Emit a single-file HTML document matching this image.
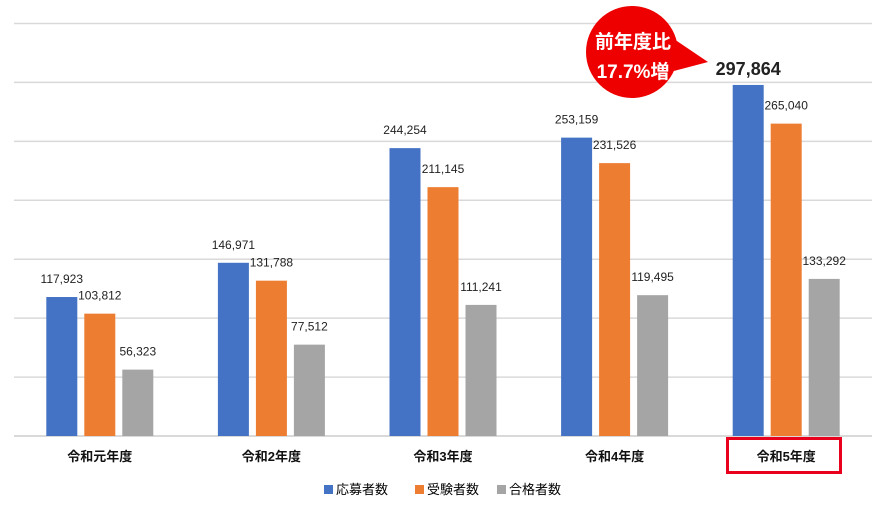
<!DOCTYPE html>
<html><head><meta charset="utf-8"><style>
body{margin:0;background:#fff;}
svg{display:block;font-family:"Liberation Sans","Noto Sans CJK JP",sans-serif;}
</style></head><body>
<svg id="chart" width="880" height="509">
<g id="grid"></g><g id="bars"></g><g id="labels"></g><g id="xlabels"></g>
<rect x="727.5" y="438.5" width="113" height="34" fill="none" stroke="#e8001c" stroke-width="3"/>
<g>
<circle cx="632" cy="52" r="46" fill="#ee0000"/>
<path d="M668 35 L708 62 L670 72 Z" fill="#ee0000"/>
<text x="633" y="48" text-anchor="middle" font-size="19" font-weight="bold" fill="#fff">前年度比</text>
<text x="633" y="78" text-anchor="middle" font-size="19" font-weight="bold" fill="#fff">17.7%増</text>
</g>
<g>
<rect x="324" y="485" width="9" height="9" fill="#4472c4"/><text x="336" y="494" font-size="13">応募者数</text>
<rect x="415" y="485" width="9" height="9" fill="#ed7d31"/><text x="427" y="494" font-size="13">受験者数</text>
<rect x="497" y="485" width="9" height="9" fill="#a5a5a5"/><text x="509" y="494" font-size="13">合格者数</text>
</g>
</svg>
<script>
const categories=["令和元年度","令和2年度","令和3年度","令和4年度","令和5年度"];
const applicants=[117923,146971,244254,253159,297864];
const examinees=[103812,131788,211145,231526,265040];
const passers=[56323,77512,111241,119495,133292];
const ticks=[0,50000,100000,150000,200000,250000,300000,350000];
const NS="http://www.w3.org/2000/svg";
const x0=14,groupW=171.6,baseY=436,topY=23.5,maxV=350000;
function y(v){return baseY-(v/maxV)*(baseY-topY);}
function gx(i){return x0+groupW*i+groupW/2;}
function mk(t,a,parent){const e=document.createElementNS(NS,t);for(const k in a)e.setAttribute(k,a[k]);parent.appendChild(e);return e;}
const grid=document.getElementById('grid'),bars=document.getElementById('bars'),labels=document.getElementById('labels'),xl=document.getElementById('xlabels');
ticks.forEach(t=>{const l=mk('line',{x1:x0,x2:872,y1:y(t),y2:y(t),stroke:'#d9d9d9','stroke-width':t===0?2:1.5},grid);

});
const series=[[applicants,'#4472c4','applicants'],[examinees,'#ed7d31','examinees'],[passers,'#a5a5a5','passers']];
const bw=31,gap=7;
categories.forEach((c,i)=>{
 series.forEach((s,j)=>{
  const v=s[0][i];const bx=gx(i)+(j-1)*(bw+gap)-bw/2;
  const r=mk('rect',{x:bx,y:y(v),width:bw,height:baseY-y(v),fill:s[1]},bars);
  
  
  const big=(i===4&&j===0);
  const t=mk('text',{x:bx+bw/2,y:y(v)-(big?10:14),'text-anchor':'middle','font-size':big?18:12,'font-weight':big?'bold':'normal',fill:'#222'},labels);
  t.textContent=v.toLocaleString('en-US');
  
  
 });
 const t=mk('text',{x:gx(i),y:461,'text-anchor':'middle','font-size':13,'font-weight':'bold',fill:'#111'},xl);
 t.textContent=c;
 
 
});
</script>
</body></html>
